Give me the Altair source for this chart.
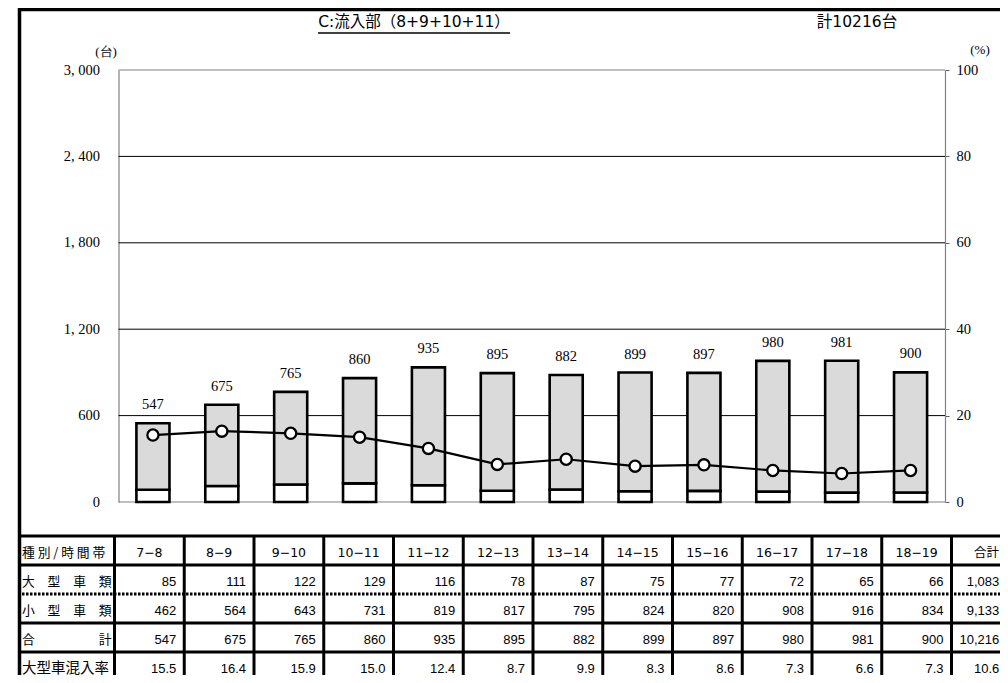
import altair as alt
import pandas as pd

# ---------------- data ----------------
hours = ["7−8", "8−9", "9−10", "10−11", "11−12", "12−13", "13−14",
         "14−15", "15−16", "16−17", "17−18", "18−19"]
large = [85, 111, 122, 129, 116, 78, 87, 75, 77, 72, 65, 66]
small = [462, 564, 643, 731, 819, 817, 795, 824, 820, 908, 916, 834]
total = [547, 675, 765, 860, 935, 895, 882, 899, 897, 980, 981, 900]
rate = [15.5, 16.4, 15.9, 15.0, 12.4, 8.7, 9.9, 8.3, 8.6, 7.3, 6.6, 7.3]
sum_label = "合計"
sum_large = 1083
sum_small = 9133
sum_total = 10216
sum_rate = 10.6
count_ticks = [0, 600, 1200, 1800, 2400, 3000]
count_grid = [600, 1200, 1800, 2400]
pct_ticks = [0, 20, 40, 60, 80, 100]
title_text = "C:流入部（8+9+10+11）"
total_text = "計10216台"
unit_left = "(台)"
unit_right = "(%)"
row_keys = ["head", "large", "small", "total", "rate"]
row_labels = ["種 別 / 時 間 帯", "大　型　車　類", "小　型　車　類", "合　　　　　計"]
rate_label = "大型車混入率"

# ---------------- layout ----------------
W, H = 982, 667
PX0, PX1 = 100.5, 927          # plot area x (view coords)
PY0, PY1 = 494, 62             # plot area y: value 0 / top
COLW = 69.75
TX0 = 96.5
SERIF = "Liberation Serif"
GOTHIC = "Noto Sans CJK JP"
WIDE = "DejaVu Sans, Noto Sans CJK JP"
NUMF = "Liberation Sans"

df = pd.DataFrame({"hour": hours, "large": large, "small": small,
                   "total": total, "rate": rate})

table_cols = hours + [sum_label]
rows_long = []
for c, a, b, t, r in zip(table_cols, large + [sum_large], small + [sum_small],
                         total + [sum_total], rate + [sum_rate]):
    rows_long.append({"col": c, "row": "large", "txt": f"{a:,}"})
    rows_long.append({"col": c, "row": "small", "txt": f"{b:,}"})
    rows_long.append({"col": c, "row": "total", "txt": f"{t:,}"})
    rows_long.append({"col": c, "row": "rate", "txt": f"{r:.1f}"})
tab_df = pd.DataFrame(rows_long)
hour_df = tab_df[tab_df["col"] != sum_label]
sum_df = tab_df[tab_df["col"] == sum_label]
head_df = pd.DataFrame({"col": table_cols, "row": ["head"] * len(table_cols)})
lab_df = pd.DataFrame({"row": row_keys[:4], "label": row_labels})
rate_lab_df = pd.DataFrame({"row": ["rate"], "label": [rate_label]})

x_plot = alt.Scale(domain=hours, range=[PX0, PX1], paddingInner=0.52, paddingOuter=0.26)
y_cnt = alt.Scale(domain=[0, 3000], range=[PY0, PY1], nice=False, zero=True)
y_pct = alt.Scale(domain=[0, 100], range=[PY0, PY1], nice=False)
x_tab = alt.Scale(domain=table_cols, range=[TX0, TX0 + 13 * COLW], paddingInner=0, paddingOuter=0)
# same columns, shifted half a column so that band centres fall on the right cell edges
x_tab_r = alt.Scale(domain=table_cols, range=[TX0 + COLW / 2, TX0 + 13.5 * COLW],
                    paddingInner=0, paddingOuter=0)
y_tab = alt.Scale(domain=row_keys, range=[528, 528 + 5 * 29], paddingInner=0, paddingOuter=0)

one = pd.DataFrame({"a": [0]})

# grid lines
grid = alt.Chart(pd.DataFrame({"v": count_grid})).mark_rule(color="black", strokeWidth=1).encode(
    y=alt.Y("v:Q", scale=y_cnt, axis=None), x=alt.value(PX0), x2=alt.value(PX1))
frame = alt.Chart(pd.DataFrame({"v": [0, 3000]})).mark_rule(color="#808080", strokeWidth=1.2).encode(
    y=alt.Y("v:Q", scale=y_cnt, axis=None), x=alt.value(PX0), x2=alt.value(PX1))

left_axis = alt.Axis(values=count_ticks, offset=-PX0, domain=True, domainColor="#808080",
                     domainWidth=1.2, ticks=False, grid=False, title=None,
                     labelExpr="replace(format(datum.value, ','), ',', ', ')",
                     labelFont=SERIF, labelFontSize=14.5, labelColor="black", labelPadding=19)
x_axis = alt.Axis(labels=False, domain=False, ticks=True, tickBand="extent", tickSize=5,
                  tickColor="#606060", tickWidth=1, title=None, grid=False,
                  offset=(PY0 - 5) - H)

bars_large = alt.Chart(df).mark_bar(fill="white", stroke="black", strokeWidth=2.6).encode(
    x=alt.X("hour:N", scale=x_plot, axis=x_axis, sort=hours),
    y=alt.Y("large:Q", scale=y_cnt, axis=left_axis))
bars_small = alt.Chart(df).mark_bar(fill="#dadada", stroke="black", strokeWidth=2.6).encode(
    x=alt.X("hour:N", scale=x_plot, axis=None, sort=hours),
    y=alt.Y("total:Q", scale=y_cnt, axis=None),
    y2="large:Q")
bar_text = alt.Chart(df).mark_text(font=SERIF, fontSize=14.5, dy=-18, baseline="middle", color="black").encode(
    x=alt.X("hour:N", scale=x_plot, axis=None, sort=hours),
    y=alt.Y("total:Q", scale=y_cnt, axis=None),
    text="total:Q")

right_axis = alt.Axis(orient="right", values=pct_ticks, offset=-(W - PX1), domain=True,
                      domainColor="#808080", domainWidth=1.2, ticks=True, tickSize=4,
                      tickColor="#606060", grid=False, title=None, labelFont=SERIF,
                      labelFontSize=14.5, labelColor="black", labelPadding=7)
line = alt.Chart(df).mark_line(color="black", strokeWidth=2.2).encode(
    x=alt.X("hour:N", scale=x_plot, axis=None, sort=hours),
    y=alt.Y("rate:Q", scale=y_pct, axis=right_axis))
points = alt.Chart(df).mark_point(shape="circle", filled=True, fill="white", stroke="black",
                                  strokeWidth=2.3, size=125, opacity=1).encode(
    x=alt.X("hour:N", scale=x_plot, axis=None, sort=hours),
    y=alt.Y("rate:Q", scale=y_pct, axis=None))

# ---------------- table ----------------
head_text = alt.Chart(head_df).mark_text(font=WIDE, fontSize=12.5, baseline="middle", dy=2, color="black").encode(
    x=alt.X("col:N", scale=x_tab, axis=None, sort=table_cols),
    y=alt.Y("row:N", scale=y_tab, axis=None, sort=row_keys),
    text="col:N")
num_text = alt.Chart(hour_df).mark_text(font=NUMF, fontSize=13, baseline="middle", align="right",
                                        dx=-8, dy=2, color="black").encode(
    x=alt.X("col:N", scale=x_tab_r, axis=None, sort=table_cols),
    y=alt.Y("row:N", scale=y_tab, axis=None, sort=row_keys),
    text="txt:N")
sum_text = alt.Chart(sum_df).mark_text(font=NUMF, fontSize=13, baseline="middle", align="right",
                                       dx=-22, dy=2, color="black").encode(
    x=alt.X("col:N", scale=x_tab_r, axis=None, sort=table_cols),
    y=alt.Y("row:N", scale=y_tab, axis=None, sort=row_keys),
    text="txt:N")
row_text = alt.Chart(lab_df).mark_text(font=GOTHIC, fontSize=12.8, baseline="middle", align="left",
                                       dy=2, color="black").encode(
    x=alt.value(4),
    y=alt.Y("row:N", scale=y_tab, axis=None, sort=row_keys),
    text="label:N")
rate_text = alt.Chart(rate_lab_df).mark_text(font=GOTHIC, fontSize=14.5, baseline="middle", align="left",
                                             dy=2, color="black").encode(
    x=alt.value(4),
    y=alt.Y("row:N", scale=y_tab, axis=None, sort=row_keys),
    text="label:N")
hlines = alt.Chart(pd.DataFrame({"row": ["head", "large", "total", "rate"]})).mark_rule(
    color="black", strokeWidth=3).encode(
    y=alt.Y("row:N", scale=y_tab, axis=None, sort=row_keys, bandPosition=0),
    x=alt.value(0), x2=alt.value(W))
dotted = alt.Chart(pd.DataFrame({"row": ["small"]})).mark_rule(
    color="black", strokeWidth=3, strokeDash=[2.5, 1.5]).encode(
    y=alt.Y("row:N", scale=y_tab, axis=None, sort=row_keys, bandPosition=0),
    x=alt.value(0), x2=alt.value(W))
vlines = alt.Chart(pd.DataFrame({"col": table_cols})).mark_rule(color="black", strokeWidth=3).encode(
    x=alt.X("col:N", scale=x_tab, axis=None, sort=table_cols, bandPosition=0),
    y=alt.value(528), y2=alt.value(H))

# ---------------- frame & titles ----------------
border_top = alt.Chart(one).mark_rule(color="black", strokeWidth=3.5).encode(
    x=alt.value(0), x2=alt.value(W), y=alt.value(1.5))
border_left = alt.Chart(one).mark_rule(color="black", strokeWidth=3.5).encode(
    x=alt.value(1.5), y=alt.value(0), y2=alt.value(H))
title = alt.Chart(pd.DataFrame({"t": [title_text]})).mark_text(
    font=WIDE, fontSize=15.5, align="center", baseline="middle", color="black").encode(
    x=alt.value(396), y=alt.value(14), text="t:N")
underline = alt.Chart(one).mark_rule(color="black", strokeWidth=1.3).encode(
    x=alt.value(300), x2=alt.value(492), y=alt.value(25))
total_lbl = alt.Chart(pd.DataFrame({"t": [total_text]})).mark_text(
    font=WIDE, fontSize=15.5, align="center", baseline="middle", color="black").encode(
    x=alt.value(839), y=alt.value(14), text="t:N")
unit_l = alt.Chart(pd.DataFrame({"t": [unit_left]})).mark_text(
    font=SERIF, fontSize=13, align="center", baseline="middle", color="black").encode(
    x=alt.value(88), y=alt.value(44), text="t:N")
unit_r = alt.Chart(pd.DataFrame({"t": [unit_right]})).mark_text(
    font=SERIF, fontSize=13, align="center", baseline="middle", color="black").encode(
    x=alt.value(962), y=alt.value(42), text="t:N")

chart = alt.layer(
    grid, frame, bars_large, bars_small, bar_text, line, points,
    head_text, num_text, sum_text, row_text, rate_text, hlines, dotted, vlines,
    border_top, border_left, title, underline, total_lbl, unit_l, unit_r
).resolve_scale(x="independent", y="independent").properties(
    width=W, height=H,
    autosize=alt.AutoSizeParams(type="none"),
    padding={"left": 10, "top": 0, "right": 0, "bottom": 0},
    background="white",
).configure_view(stroke=None)

chart.save("out.html", embed_options={"renderer": "svg", "actions": False})
